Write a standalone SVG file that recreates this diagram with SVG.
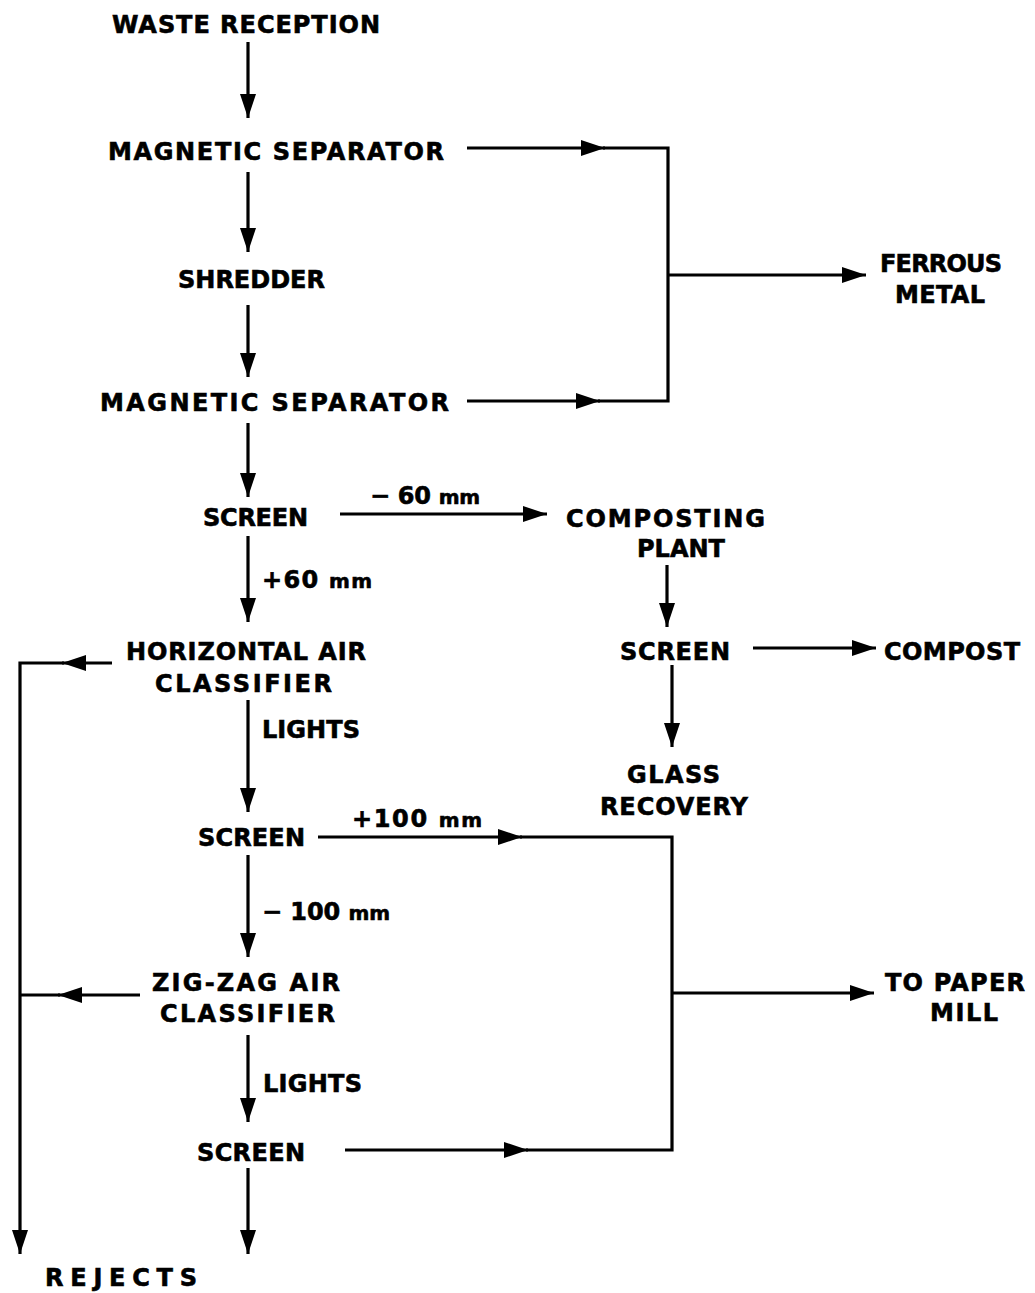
<svg xmlns="http://www.w3.org/2000/svg" width="1035" height="1293" viewBox="0 0 1035 1293">
<defs>
<marker id="ah" viewBox="0 0 24 16" refX="24" refY="8" markerWidth="24" markerHeight="16" markerUnits="userSpaceOnUse" orient="auto">
<path d="M0,0 L24,8 L0,16 Z" fill="#000"/>
</marker>
</defs>
<style>
text{font-family:"DejaVu Sans","Liberation Sans",Arial,sans-serif;font-weight:bold;font-size:24px;fill:#000;stroke:#000;stroke-width:0.6}
.mm{font-size:20px}
line,polyline{stroke:#000;stroke-width:3.2;fill:none}
.a{marker-end:url(#ah)}
</style>
<rect width="1035" height="1293" fill="#fff"/>
<g id="connectors">
<line class="a" x1="248" y1="42" x2="248" y2="118"/>
<line class="a" x1="467" y1="148" x2="605" y2="148"/>
<polyline points="603,148 668,148 668,401 598,401"/>
<line class="a" x1="467" y1="401" x2="600" y2="401"/>
<line class="a" x1="668" y1="275" x2="866" y2="275"/>
<line class="a" x1="248" y1="172" x2="248" y2="252"/>
<line class="a" x1="248" y1="305" x2="248" y2="377"/>
<line class="a" x1="248" y1="423" x2="248" y2="497"/>
<line class="a" x1="340" y1="514" x2="547" y2="514"/>
<line class="a" x1="248" y1="536" x2="248" y2="622"/>
<line class="a" x1="667" y1="565" x2="667" y2="627"/>
<line class="a" x1="112" y1="663" x2="62" y2="663"/>
<polyline points="64,663 20,663 20,1240"/>
<line class="a" x1="20" y1="1230" x2="20" y2="1254"/>
<line class="a" x1="753" y1="648" x2="876" y2="648"/>
<line class="a" x1="672" y1="665" x2="672" y2="747"/>
<line class="a" x1="248" y1="700" x2="248" y2="812"/>
<line class="a" x1="318" y1="837" x2="522" y2="837"/>
<polyline points="520,837 672,837 672,1150 526,1150"/>
<line class="a" x1="248" y1="855" x2="248" y2="957"/>
<line class="a" x1="140" y1="995" x2="58" y2="995"/>
<line x1="60" y1="995" x2="20" y2="995"/>
<line class="a" x1="672" y1="993" x2="874" y2="993"/>
<line class="a" x1="248" y1="1035" x2="248" y2="1122"/>
<line class="a" x1="345" y1="1150" x2="528" y2="1150"/>
<line class="a" x1="248" y1="1168" x2="248" y2="1254"/>
</g>
<g id="waste-reception"><text x="112" y="33" textLength="268" lengthAdjust="spacing">WASTE RECEPTION</text></g>
<g id="magnetic-separator-1"><text x="108" y="160" textLength="336" lengthAdjust="spacing">MAGNETIC SEPARATOR</text></g>
<g id="shredder"><text x="178" y="288" textLength="147" lengthAdjust="spacing">SHREDDER</text></g>
<g id="magnetic-separator-2"><text x="100" y="411" textLength="349" lengthAdjust="spacing">MAGNETIC SEPARATOR</text></g>
<g id="ferrous-metal"><text x="880" y="272" textLength="122" lengthAdjust="spacing">FERROUS</text><text x="895" y="303" textLength="90" lengthAdjust="spacing">METAL</text></g>
<g id="screen-1"><text x="203" y="526" textLength="105" lengthAdjust="spacing">SCREEN</text></g>
<g id="label-minus60"><text x="370" y="504" textLength="110" lengthAdjust="spacing">− 60 <tspan class="mm">mm</tspan></text></g>
<g id="composting-plant"><text x="566" y="527" textLength="199" lengthAdjust="spacing">COMPOSTING</text><text x="637" y="557">PLANT</text></g>
<g id="label-plus60"><text x="262" y="588" textLength="110" lengthAdjust="spacing">+60 <tspan class="mm">mm</tspan></text></g>
<g id="horizontal-air-classifier"><text x="126" y="660" textLength="240" lengthAdjust="spacing">HORIZONTAL AIR</text><text x="155" y="692" textLength="177" lengthAdjust="spacing">CLASSIFIER</text></g>
<g id="screen-compost"><text x="620" y="660" textLength="110" lengthAdjust="spacing">SCREEN</text></g>
<g id="compost"><text x="884" y="660" textLength="136" lengthAdjust="spacing">COMPOST</text></g>
<g id="glass-recovery"><text x="627" y="783" textLength="93" lengthAdjust="spacing">GLASS</text><text x="600" y="815" textLength="148" lengthAdjust="spacing">RECOVERY</text></g>
<g id="label-lights-1"><text x="262" y="738" textLength="98" lengthAdjust="spacing">LIGHTS</text></g>
<g id="screen-2"><text x="198" y="846" textLength="107" lengthAdjust="spacing">SCREEN</text></g>
<g id="label-plus100"><text x="352" y="827" textLength="130" lengthAdjust="spacing">+100 <tspan class="mm">mm</tspan></text></g>
<g id="label-minus100"><text x="262" y="920" textLength="128" lengthAdjust="spacing">− 100 <tspan class="mm">mm</tspan></text></g>
<g id="zigzag-air-classifier"><text x="152" y="991" textLength="188" lengthAdjust="spacing">ZIG-ZAG AIR</text><text x="160" y="1022" textLength="175" lengthAdjust="spacing">CLASSIFIER</text></g>
<g id="to-paper-mill"><text x="885" y="991" textLength="140" lengthAdjust="spacing">TO PAPER</text><text x="930" y="1021" textLength="68" lengthAdjust="spacing">MILL</text></g>
<g id="label-lights-2"><text x="263" y="1092" textLength="99" lengthAdjust="spacing">LIGHTS</text></g>
<g id="screen-3"><text x="197" y="1161" textLength="108" lengthAdjust="spacing">SCREEN</text></g>
<g id="rejects"><text x="45" y="1286" textLength="152" lengthAdjust="spacing">REJECTS</text></g>
</svg>
